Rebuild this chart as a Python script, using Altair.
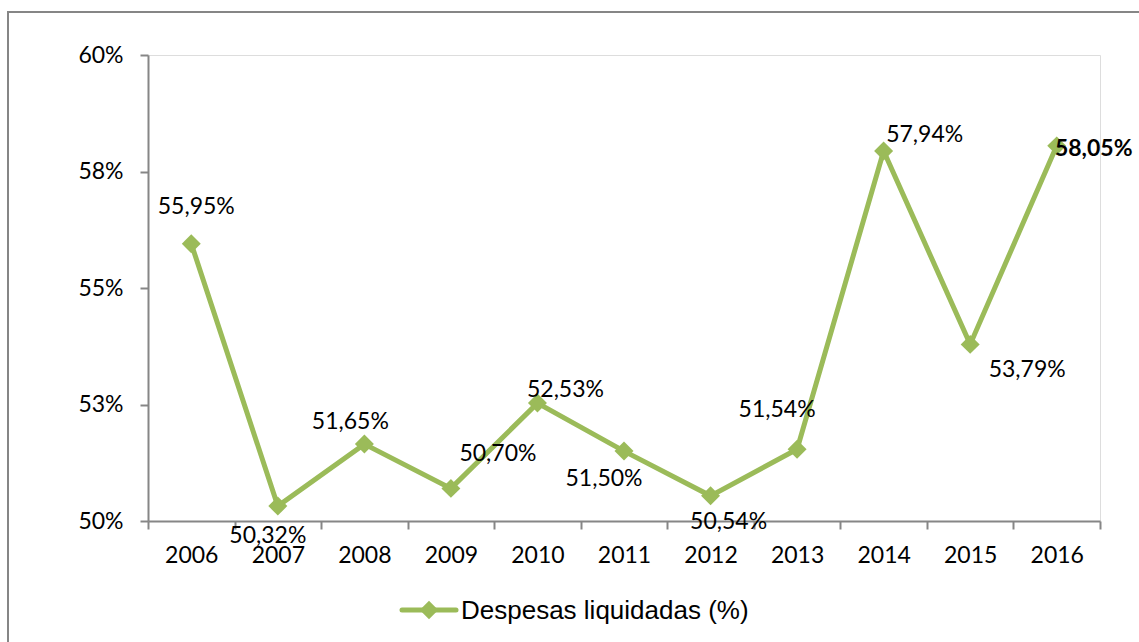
import altair as alt
import pandas as pd

# Share of budget expenses settled, per year (%)
years = ["2006", "2007", "2008", "2009", "2010", "2011", "2012", "2013", "2014", "2015", "2016"]
despesas = [55.95, 50.32, 51.65, 50.70, 52.53, 51.50, 50.54, 51.54, 57.94, 53.79, 58.05]

y_ticks = [50, 52.5, 55, 57.5, 60]

# Placement of each data label relative to its point (dx, dy in px)
label_offsets = {
    "2006": (5, -37), "2007": (-10, 30), "2008": (-14, -22), "2009": (47, -34),
    "2010": (28, -13), "2011": (-20, 28), "2012": (18, 26), "2013": (-20, -39),
    "2014": (41, -16), "2015": (57, 26), "2016": (37, 3),
}
bold_labels = {"2016"}

GREEN = "#9BBB59"
AXIS_GRAY = "#868686"
FONT = "Lato"
FS = 23

df = pd.DataFrame({"ano": years, "valor": despesas})

x_enc = alt.X(
    "ano:N",
    sort=years,
    title=None,
    scale=alt.Scale(paddingInner=0, paddingOuter=0),
    axis=alt.Axis(
        labelAngle=0, labelFont=FONT, labelFontSize=FS, labelColor="black",
        domainColor=AXIS_GRAY, domainWidth=2, tickColor=AXIS_GRAY, tickWidth=2,
        tickSize=8, tickBand="extent", labelPadding=15, grid=False,
    ),
)
y_enc = alt.Y(
    "valor:Q",
    title=None,
    scale=alt.Scale(domain=[50, 60], nice=False, zero=False),
    axis=alt.Axis(
        values=y_ticks, labelExpr="round(datum.value) + '%'",
        labelFont=FONT, labelFontSize=FS, labelColor="black",
        domainColor=AXIS_GRAY, domainWidth=2, tickColor=AXIS_GRAY, tickWidth=2,
        tickSize=8, labelPadding=17, grid=False,
    ),
)

base = alt.Chart(df).encode(x=x_enc, y=y_enc)

line = base.mark_line(color=GREEN, strokeWidth=5)
points = base.mark_point(shape="diamond", filled=True, size=360, color=GREEN, opacity=1)

label_layers = []
for yr, (dx, dy) in label_offsets.items():
    label_layers.append(
        base.transform_filter(alt.datum.ano == yr)
        .transform_calculate(rotulo="replace(format(datum.valor, '.2f'), '.', ',') + '%'")
        .mark_text(
            dx=dx, dy=dy, font=FONT, fontSize=FS, color="black",
            fontWeight="bold" if yr in bold_labels else "normal",
            align="center", baseline="middle",
        )
        .encode(text="rotulo:N")
    )

one = alt.Data(values=[{}])

# Outer frame of the chart
frame = alt.Chart(one).mark_rect(
    fillOpacity=0, stroke=AXIS_GRAY, strokeWidth=2
).encode(
    x=alt.value(-140), x2=alt.value(1010), y=alt.value(-43), y2=alt.value(600)
)

# Legend: line with diamond and series name
leg_line = alt.Chart(one).mark_rule(color=GREEN, strokeWidth=5, strokeCap="round").encode(
    x=alt.value(254), x2=alt.value(308), y=alt.value(555)
)
leg_point = alt.Chart(one).mark_point(
    shape="diamond", filled=True, size=340, color=GREEN, opacity=1
).encode(x=alt.value(281), y=alt.value(555))
leg_text = alt.Chart(one).mark_text(
    font="Liberation Sans", fontSize=26, color="black", align="left", baseline="middle"
).encode(x=alt.value(313), y=alt.value(556), text=alt.value("Despesas liquidadas (%)"))

chart = alt.layer(
    frame, line, points, *label_layers, leg_line, leg_point, leg_text
).properties(
    width=952,
    height=466,
    padding={"left": 148, "top": 55, "right": 39, "bottom": 121},
    autosize=alt.AutoSizeParams(type="none"),
).configure_view(stroke=None).configure(background="white")

chart.save("out.html", embed_options={"renderer": "svg", "actions": False})
